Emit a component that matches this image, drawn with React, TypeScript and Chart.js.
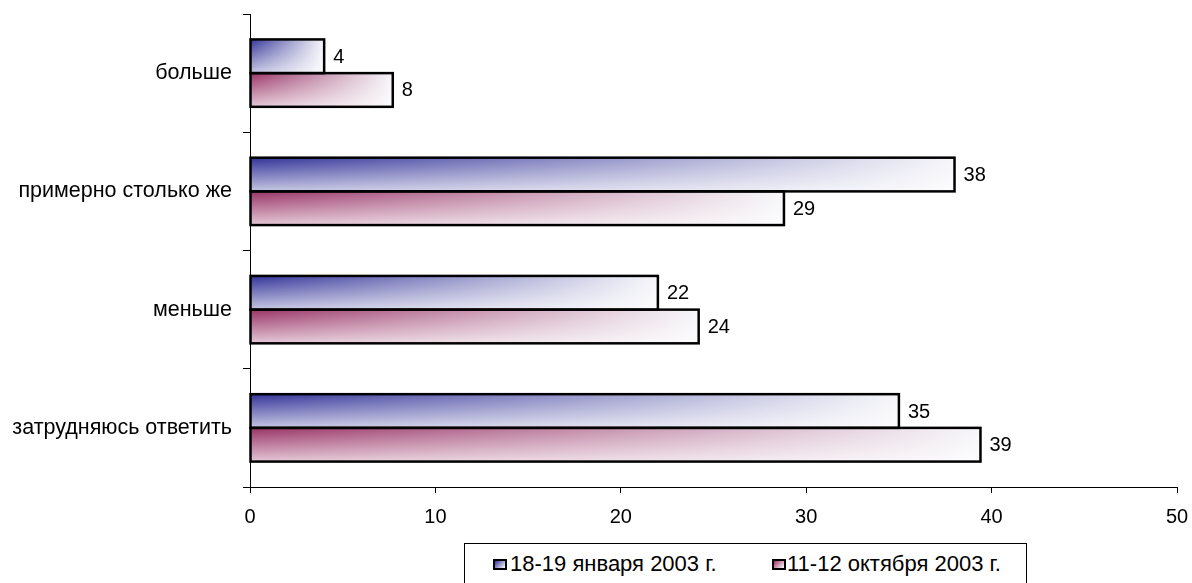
import React, { useEffect, useRef } from 'react';
import { Chart, registerables } from 'chart.js';

Chart.register(...registerables);

const categories = ['больше', 'примерно столько же', 'меньше', 'затрудняюсь ответить'];
const seriesJan = [4, 38, 22, 35];
const seriesOct = [7.7, 28.8, 24.2, 39.4];
const seriesNames = ['18-19 января 2003 г.', '11-12 октября 2003 г.'];
const seriesColors = ['#333399', '#993366'];
const xMin = 0;
const xMax = 50;
const xStep = 10;

const FONT = '"Liberation Sans", Arial, sans-serif';

function makeBg(color: string) {
  return (ctx: any) => {
    const chart = ctx.chart;
    const xs = chart.scales && chart.scales.x;
    if (!xs || ctx.type !== 'data' || xs.right === undefined) return color;
    const l = xs.getPixelForValue(0);
    const r = xs.getPixelForValue(ctx.raw);
    if (!isFinite(l) || !isFinite(r) || r <= l) return color;
    const g = chart.ctx.createLinearGradient(l, 0, r, 0);
    g.addColorStop(0, color);
    g.addColorStop(1, '#f6f6fa');
    return g;
  };
}

const barDecor = {
  id: 'barDecor',
  afterDatasetsDraw(chart: any) {
    const c = chart.ctx;
    c.save();
    chart.data.datasets.forEach((ds: any, di: number) => {
      const meta = chart.getDatasetMeta(di);
      meta.data.forEach((el: any, i: number) => {
        const left = Math.min(el.base, el.x);
        const right = Math.max(el.base, el.x);
        const top = el.y - el.height / 2;
        const bottom = el.y + el.height / 2;
        const vg = c.createLinearGradient(0, top, 0, bottom);
        vg.addColorStop(0, 'rgba(255,255,255,0)');
        vg.addColorStop(1, 'rgba(255,255,255,0.72)');
        c.fillStyle = vg;
        c.fillRect(left, top, right - left, bottom - top);
        c.strokeStyle = '#000';
        c.lineWidth = 2.5;
        c.strokeRect(left, top, right - left, bottom - top);
        c.fillStyle = '#000';
        c.font = '20px ' + FONT;
        c.textAlign = 'left';
        c.textBaseline = 'middle';
        c.fillText(String(Math.round(ds.data[i])), right + 9, el.y + 1);
      });
    });
    c.restore();
  },
};

export default function App() {
  const ref = useRef<HTMLCanvasElement | null>(null);

  useEffect(() => {
    if (!ref.current) return;
    const chart = new Chart(ref.current, {
      type: 'bar',
      data: {
        labels: categories,
        datasets: [
          {
            label: seriesNames[0],
            data: seriesJan,
            backgroundColor: makeBg(seriesColors[0]),
            borderWidth: 0,
            categoryPercentage: 0.57,
            barPercentage: 1.0,
          },
          {
            label: seriesNames[1],
            data: seriesOct,
            backgroundColor: makeBg(seriesColors[1]),
            borderWidth: 0,
            categoryPercentage: 0.57,
            barPercentage: 1.0,
          },
        ],
      },
      options: {
        indexAxis: 'y',
        responsive: false,
        animation: false,
        layout: { padding: { left: 0, top: 14, right: 15, bottom: 56 } },
        plugins: {
          legend: { display: false },
          tooltip: { enabled: false },
        },
        scales: {
          x: {
            min: xMin,
            max: xMax,
            afterFit: (s: any) => {
              s.height = 40;
              s.paddingLeft = 0;
              s.paddingRight = 0;
            },
            ticks: {
              stepSize: xStep,
              color: '#000',
              font: { family: FONT, size: 20 },
              padding: 12,
            },
            grid: {
              drawOnChartArea: false,
              drawTicks: true,
              tickLength: 6,
              color: '#000',
            },
            border: { display: true, color: '#000', width: 1 },
          },
          y: {
            afterFit: (s: any) => {
              s.width = 250;
              s.paddingTop = 0;
              s.paddingBottom = 0;
            },
            ticks: {
              color: '#000',
              font: { family: FONT, size: 21.5 },
              padding: 11,
            },
            grid: {
              offset: true,
              drawOnChartArea: false,
              drawTicks: true,
              tickLength: 7,
              color: '#000',
            },
            border: { display: true, color: '#000', width: 1 },
          },
        },
      },
      plugins: [barDecor],
    });
    return () => chart.destroy();
  }, []);

  const legendBox = (color: string) => ({
    position: 'absolute' as const,
    top: 15,
    width: 14,
    height: 11,
    boxSizing: 'border-box' as const,
    border: '2px solid #000',
    background: `linear-gradient(135deg, ${color} 0%, #ffffff 100%)`,
  });
  const legendText = {
    position: 'absolute' as const,
    top: 6,
    fontFamily: FONT,
    fontSize: 22,
    lineHeight: '28px',
    color: '#000',
    whiteSpace: 'nowrap' as const,
  };

  return (
    <div style={{ position: 'fixed', left: 0, top: 0, width: 1192, height: 583, background: '#fff', overflow: 'hidden' }}>
      <canvas ref={ref} width={1192} height={583} style={{ position: 'absolute', left: 0, top: 0 }} />
      <div
        style={{
          position: 'absolute',
          left: 464,
          top: 543,
          width: 563,
          height: 50,
          border: '1px solid #000',
          boxSizing: 'border-box',
          background: '#fff',
        }}
      >
        <div style={{ ...legendBox(seriesColors[0]), left: 28 }} />
        <div style={{ ...legendText, left: 45 }}>{seriesNames[0]}</div>
        <div style={{ ...legendBox(seriesColors[1]), left: 307 }} />
        <div style={{ ...legendText, left: 322 }}>{seriesNames[1]}</div>
      </div>
    </div>
  );
}
